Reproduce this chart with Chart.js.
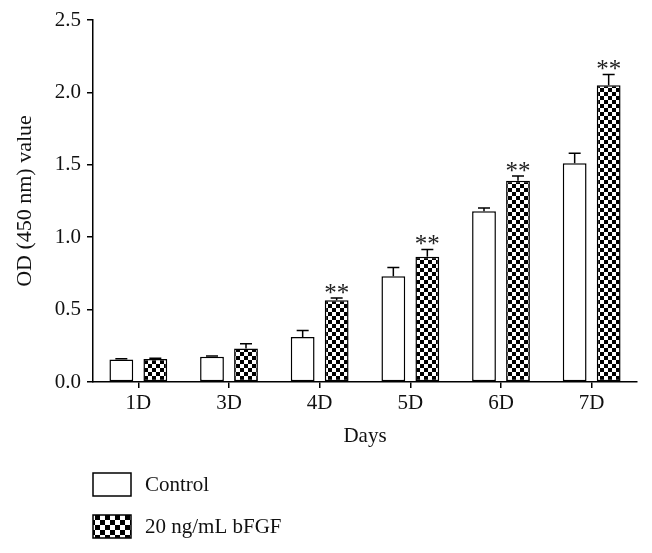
<!DOCTYPE html>
<html>
<head>
<meta charset="utf-8">
<script src="https://cdn.jsdelivr.net/npm/chart.js@4.4.0/dist/chart.umd.min.js"></script>
<style>
  html, body { margin: 0; padding: 0; background: #fff; }
  #wrap { width: 652px; height: 553px; }
</style>
</head>
<body>
<div id="wrap"><canvas id="chart" width="652" height="553"></canvas></div>
<script>
const days = ['1D', '3D', '4D', '5D', '6D', '7D'];
const controlValues = [0.155, 0.175, 0.31, 0.73, 1.18, 1.51];
const controlErrors = [0.005, 0.005, 0.045, 0.06, 0.022, 0.07];
const bfgfValues = [0.158, 0.232, 0.565, 0.865, 1.39, 2.05];
const bfgfErrors = [0.006, 0.032, 0.015, 0.05, 0.032, 0.073];
const bfgfStars = ['', '', '**', '**', '**', '**'];
const seriesLabels = ['Control', '20 ng/mL bFGF'];

const serif = "'Liberation Serif', 'Times New Roman', serif";

function checker(cell) {
  const c = document.createElement('canvas');
  c.width = cell * 2;
  c.height = cell * 2;
  const g = c.getContext('2d');
  g.fillStyle = '#fff';
  g.fillRect(0, 0, cell * 2, cell * 2);
  g.fillStyle = '#000';
  g.fillRect(0, 0, cell, cell);
  g.fillRect(cell, cell, cell, cell);
  return g.createPattern(c, 'repeat');
}

const ctx = document.getElementById('chart').getContext('2d');
const barPattern = checker(4);
const legendPattern = checker(5);

const errorBars = {
  id: 'errorBars',
  afterDatasetsDraw(chart) {
    const g = chart.ctx;
    const y = chart.scales.y;
    const errs = [controlErrors, bfgfErrors];
    const vals = [controlValues, bfgfValues];
    g.save();
    g.strokeStyle = '#000';
    g.lineWidth = 1.5;
    chart.data.datasets.forEach((ds, di) => {
      chart.getDatasetMeta(di).data.forEach((bar, i) => {
        const top = y.getPixelForValue(vals[di][i] + errs[di][i]);
        g.beginPath();
        g.moveTo(bar.x, bar.y);
        g.lineTo(bar.x, top);
        g.moveTo(bar.x - 6, top);
        g.lineTo(bar.x + 6, top);
        g.stroke();
        if (di === 1 && bfgfStars[i]) {
          g.fillStyle = '#222';
          g.font = '25px ' + serif;
          g.textAlign = 'center';
          g.textBaseline = 'middle';
          g.fillText(bfgfStars[i], bar.x, top - 4);
        }
      });
    });
    g.restore();
  }
};

const legendBoxes = {
  id: 'legendBoxes',
  afterDraw(chart) {
    const g = chart.ctx;
    const left = chart.chartArea.left;
    const base = chart.chartArea.bottom;
    const fills = ['#fff', legendPattern];
    g.save();
    seriesLabels.forEach((lab, i) => {
      const top = base + 91 + i * 42;
      g.fillStyle = fills[i];
      g.fillRect(left, top, 38, 23);
      g.strokeStyle = '#000';
      g.lineWidth = 1.5;
      g.strokeRect(left, top, 38, 23);
      g.fillStyle = '#111';
      g.font = '21px ' + serif;
      g.textAlign = 'left';
      g.textBaseline = 'middle';
      g.fillText(lab, left + 52, top + 12);
    });
    g.restore();
  }
};

new Chart(ctx, {
  type: 'bar',
  data: {
    labels: days,
    datasets: [
      {
        label: seriesLabels[0],
        data: controlValues,
        backgroundColor: '#fff',
        borderColor: '#000',
        borderWidth: 1.5,
        borderSkipped: false
      },
      {
        label: seriesLabels[1],
        data: bfgfValues,
        backgroundColor: barPattern,
        borderColor: '#000',
        borderWidth: 1.5,
        borderSkipped: false
      }
    ]
  },
  options: {
    responsive: false,
    animation: false,
    devicePixelRatio: 1,
    categoryPercentage: 0.75,
    barPercentage: 0.7,
    layout: { padding: { top: 20, right: 15, left: 0, bottom: 96 } },
    plugins: {
      legend: { display: false },
      tooltip: { enabled: false }
    },
    scales: {
      x: {
        afterFit(s) { s.height = 75; },
        grid: { offset: false, drawOnChartArea: false, tickLength: 6, color: '#000', lineWidth: 1.5 },
        border: { color: '#000', width: 1.5 },
        ticks: { color: '#111', font: { family: serif, size: 21 }, padding: 3 },
        title: { display: true, text: 'Days', color: '#111', font: { family: serif, size: 21 }, padding: { top: 0, bottom: 8 } }
      },
      y: {
        min: 0,
        max: 2.5,
        afterFit(s) { s.width = 93; },
        grid: { drawOnChartArea: false, tickLength: 6, color: '#000', lineWidth: 1.5 },
        border: { color: '#000', width: 1.5 },
        ticks: {
          stepSize: 0.5,
          color: '#111',
          font: { family: serif, size: 21 },
          padding: 6,
          callback: v => v.toFixed(1)
        },
        title: { display: true, text: 'OD (450 nm) value', color: '#111', font: { family: serif, size: 22 }, padding: { top: 12, bottom: 0 } }
      }
    }
  },
  plugins: [errorBars, legendBoxes]
});
</script>
</body>
</html>
